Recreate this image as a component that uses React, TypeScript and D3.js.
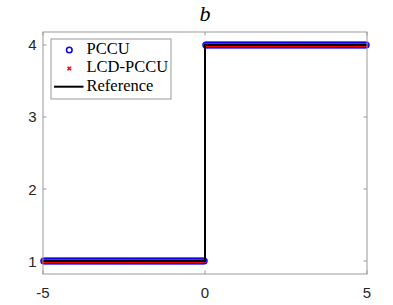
import React from "react";
import * as d3 from "d3";

// Step profile of b: breakpoints and the constant level on each piece
const stepEdges = [-5, 0, 5];
const stepLevels = [1, 4];
const cellCount = 200;
const xTicks = [-5, 0, 5];
const yTicks = [1, 2, 3, 4];
const seriesNames = ["PCCU", "LCD-PCCU", "Reference"];

const W = 393, H = 305;
const margin = { left: 43, right: 26, top: 32, bottom: 31 };

function levelAt(x: number) {
  for (let i = 0; i < stepLevels.length; i++) {
    if (x >= stepEdges[i] && x <= stepEdges[i + 1]) return stepLevels[i];
  }
  return stepLevels[stepLevels.length - 1];
}

export default function App() {
  const x = d3.scaleLinear().domain([-5, 5]).range([margin.left, W - margin.right]);
  const y = d3.scaleLinear().domain([0.82, 4.18]).range([H - margin.bottom, margin.top]);
  const dx = (stepEdges[stepEdges.length - 1] - stepEdges[0]) / cellCount;
  const xs = d3.range(cellCount).map((i) => stepEdges[0] + dx * (i + 0.5));
  const pts = xs.map((v) => ({ x: v, y: levelAt(v) }));
  const refPts: [number, number][] = [];
  stepLevels.forEach((lv, i) => {
    refPts.push([stepEdges[i], lv]);
    refPts.push([stepEdges[i + 1], lv]);
  });
  const line = d3.line<[number, number]>().x((d) => x(d[0])).y((d) => y(d[1]));
  const axisColor = "#9a9a9a";
  const textColor = "#262626";
  const x0 = margin.left, x1 = W - margin.right, y0 = H - margin.bottom, y1 = margin.top;
  const tl = 3.5;
  const cross = (cx: number, cy: number, s: number) =>
    `M${cx - s},${cy - s}L${cx + s},${cy + s}M${cx - s},${cy + s}L${cx + s},${cy - s}`;
  return (
    <svg width={W} height={H} style={{ position: "absolute", left: 0, top: 0, background: "#fff" }}>
      <rect x={0} y={0} width={W} height={H} fill="#fff" />
      {/* ticks */}
      {xTicks.map((t) => (
        <g key={"xt" + t}>
          <line x1={x(t)} x2={x(t)} y1={y0} y2={y0 - tl} stroke={axisColor} />
          <line x1={x(t)} x2={x(t)} y1={y1} y2={y1 + tl} stroke={axisColor} />
          <text x={x(t)} y={y0 + 24} textAnchor="middle" fontFamily="Liberation Sans, Arial, sans-serif" fontSize={15} fill={textColor}>
            {t}
          </text>
        </g>
      ))}
      {yTicks.map((t) => (
        <g key={"yt" + t}>
          <line x1={x0} x2={x0 + tl} y1={y(t)} y2={y(t)} stroke={axisColor} />
          <line x1={x1} x2={x1 - tl} y1={y(t)} y2={y(t)} stroke={axisColor} />
          <text x={x0 - 6.5} y={y(t) + 5.5} textAnchor="end" fontFamily="Liberation Sans, Arial, sans-serif" fontSize={15} fill={textColor}>
            {t}
          </text>
        </g>
      ))}
      {/* data */}
      {pts.map((p, i) => (
        <circle key={"c" + i} cx={x(p.x)} cy={y(p.y)} r={2.8} fill="none" stroke="#0000ff" strokeWidth={1.5} />
      ))}
      {pts.map((p, i) => (
        <path key={"r" + i} d={cross(x(p.x), y(p.y), 1.8)} stroke="#ff0000" strokeWidth={1.5} fill="none" />
      ))}
      <path d={line(refPts) || ""} stroke="#000" strokeWidth={2} fill="none" />
      {/* box */}
      <rect x={x0} y={y1} width={x1 - x0} height={y0 - y1} fill="none" stroke={axisColor} />
      {/* title */}
      <text x={(x0 + x1) / 2} y={20.5} textAnchor="middle" fontFamily="Liberation Serif, Times New Roman, serif" fontStyle="italic" fontSize={22} fill="#000">
        b
      </text>
      {/* legend */}
      <g>
        <rect x={51} y={39} width={120} height={60} fill="#fff" stroke={axisColor} />
        <circle cx={69.3} cy={50} r={2.8} fill="none" stroke="#0000ff" strokeWidth={1.5} />
        <path d={cross(69.3, 68.5, 1.8)} stroke="#ff0000" strokeWidth={1.5} fill="none" />
        <line x1={54} x2={83.5} y1={86.7} y2={86.7} stroke="#000" strokeWidth={2} />
        {seriesNames.map((s, i) => (
          <text key={s} x={86.5} y={53.5 + i * 18.8} fontFamily="Liberation Serif, Times New Roman, serif" fontSize={16.5} fill="#000">
            {s}
          </text>
        ))}
      </g>
    </svg>
  );
}
